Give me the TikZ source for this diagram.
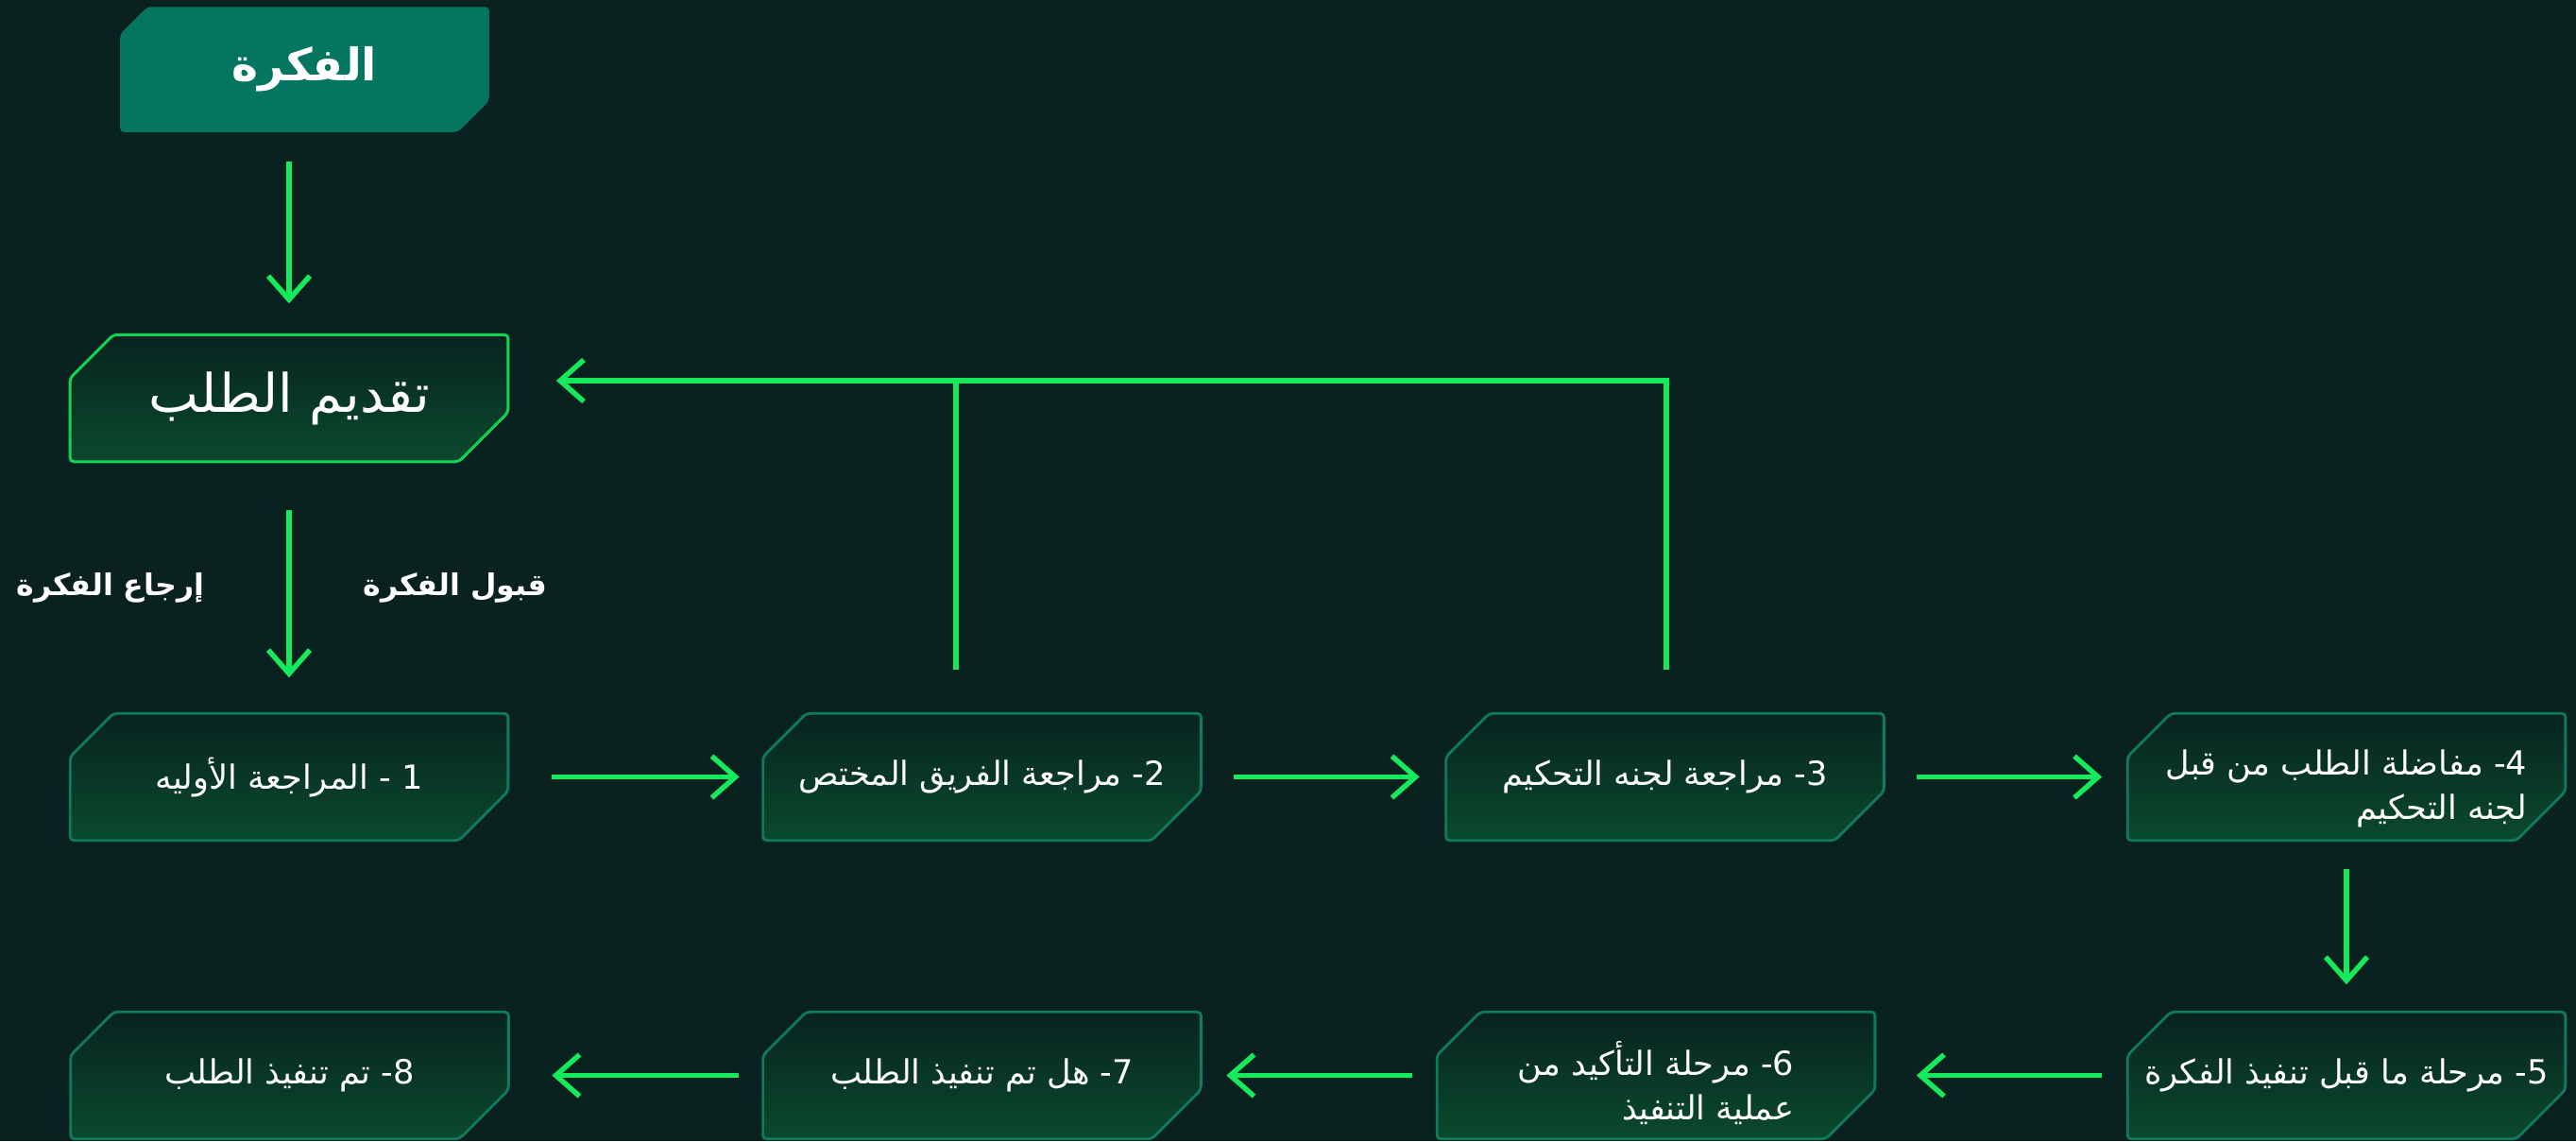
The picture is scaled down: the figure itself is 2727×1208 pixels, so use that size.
\documentclass[tikz,border=0pt]{standalone}
\usepackage{fontspec}
\usetikzlibrary{arrows.meta,calc}
\TeXXeTstate=1
\newfontfamily\arabicfont[Script=Arabic]{DejaVu Sans}
\newcommand\AR[1]{{\arabicfont\beginR #1\endR}}
\definecolor{bgc}{HTML}{09211F}
\definecolor{lineg}{HTML}{14EA5C}
\definecolor{tealb}{HTML}{0F7A5E}
\definecolor{headf}{HTML}{04755F}
\definecolor{shtop}{HTML}{08231F}
\definecolor{shbot}{HTML}{0A4A2D}
\pgfdeclarelayer{bg}
\pgfsetlayers{bg,main}
\newcommand\mychamf[4]{%
  \path[#2, rounded corners=0.04cm] ($(#1.north west)+(0,#3)$) -- ($(#1.north west)+(#3,0)$) -- (#1.north east) -- ($(#1.south east)+(0,-#4)$) -- ($(#1.south east)+(-#4,0)$) -- (#1.south west) -- cycle;}
\newcommand\toppad{\rule{0pt}{0.52cm}}
\begin{document}
\begin{tikzpicture}[x=0.01cm, y=-0.01cm,
  box/.style={rectangle, minimum width=4.62cm, minimum height=1.33cm, inner sep=0pt, text=white, align=right, font=\arabicfont\fontsize{10}{13.4}\selectfont},
  headbox/.style={rectangle, minimum width=3.89cm, minimum height=1.31cm, inner sep=0pt, text=white, font=\arabicfont\bfseries\fontsize{13.5}{16}\selectfont},
  reqbox/.style={box, font=\arabicfont\fontsize{16}{18}\selectfont},
  lbl/.style={text=white, inner sep=0pt, font=\arabicfont\bfseries\fontsize{9}{11}\selectfont},
  ln/.style={draw=lineg, line width=1.55pt},
  arr/.style={ln, -{Straight Barb[length=0.25cm, width=0.44cm]}},
  tealshape/.style={draw=tealb, line width=0.8pt, top color=shtop, bottom color=shbot},
  greenshape/.style={draw=lineg!90!black, line width=0.85pt, top color=shtop, bottom color=shbot},
  headshape/.style={fill=headf}]
\useasboundingbox (0,0) rectangle (2727,1208);
\begin{pgfonlayer}{bg}
\fill[bgc] (0,0) rectangle (2727,1208);
\end{pgfonlayer}

\node[headbox] (idea) at (322.5,73.5) {\AR{الفكرة}};
\node[reqbox] (req) at (306,421.5) {\AR{تقديم الطلب}};
\node[lbl] (lret) at (117,622) {\AR{إرجاع الفكرة}};
\node[lbl] (lacc) at (482,622) {\AR{قبول الفكرة}};

\node[box] (s1) at (306,822.5) {\AR{1 - المراجعة الأوليه}};
\node[box] (s2) at (1039.5,822.5) {\AR{2\kern0pt- مراجعة الفريق المختص}};
\node[box] (s3) at (1762.5,822.5) {\AR{3\kern0pt- مراجعة لجنه التحكيم}};
\node[box] (s4) at (2484,822.5) {\toppad\AR{4\kern0pt- مفاضلة الطلب من قبل}\\\AR{لجنه التحكيم}};
\node[box] (s5) at (2484,1138.5) {\AR{5\kern0pt- مرحلة ما قبل تنفيذ الفكرة}};
\node[box] (s6) at (1753,1138.5) {\toppad\AR{6\kern0pt- مرحلة التأكيد من}\\\AR{عملية التنفيذ}};
\node[box] (s7) at (1039.5,1138.5) {\AR{7\kern0pt- هل تم تنفيذ الطلب}};
\node[box] (s8) at (306.5,1138.5) {\AR{8\kern0pt- تم تنفيذ الطلب}};

\begin{pgfonlayer}{bg}
\mychamf{idea}{headshape}{29}{33}
\mychamf{req}{greenshape}{46}{52}
\foreach \n in {s1,s2,s3,s4,s5,s6,s7,s8} {\mychamf{\n}{tealshape}{46}{52}}
\end{pgfonlayer}

\coordinate (fa) at (1012,403);
\coordinate (fb) at (1764,403);

\draw[arr, shorten <=0.31cm, shorten >=0.33cm] (idea.south -| req.north) -- (req.north);
\draw[arr, shorten <=0.51cm, shorten >=0.38cm] (req.south) -- (s1.north);
\draw[arr, shorten <=0.46cm, shorten >=0.25cm] (s1.east) -- (s2.west);
\draw[arr, shorten <=0.35cm, shorten >=0.28cm] (s2.east) -- (s3.west);
\draw[arr, shorten <=0.35cm, shorten >=0.27cm] (s3.east) -- (s4.west);
\draw[arr, shorten <=0.30cm, shorten >=0.29cm] (s4.south) -- (s5.north);
\draw[arr, shorten <=0.27cm, shorten >=0.44cm] (s5.west) -- (s6.east);
\draw[arr, shorten <=0.26cm, shorten >=0.27cm] (s6.west) -- (s7.east);
\draw[arr, shorten <=0.26cm, shorten >=0.46cm] (s7.west) -- (s8.east);

\draw[ln, shorten <=0.46cm] (s2.north -| fa) -- (fa);
\draw[arr, shorten <=0.46cm, shorten >=0.51cm] (s3.north -| fb) -- (fb) -- (req.east |- fb);
\end{tikzpicture}
\end{document}
